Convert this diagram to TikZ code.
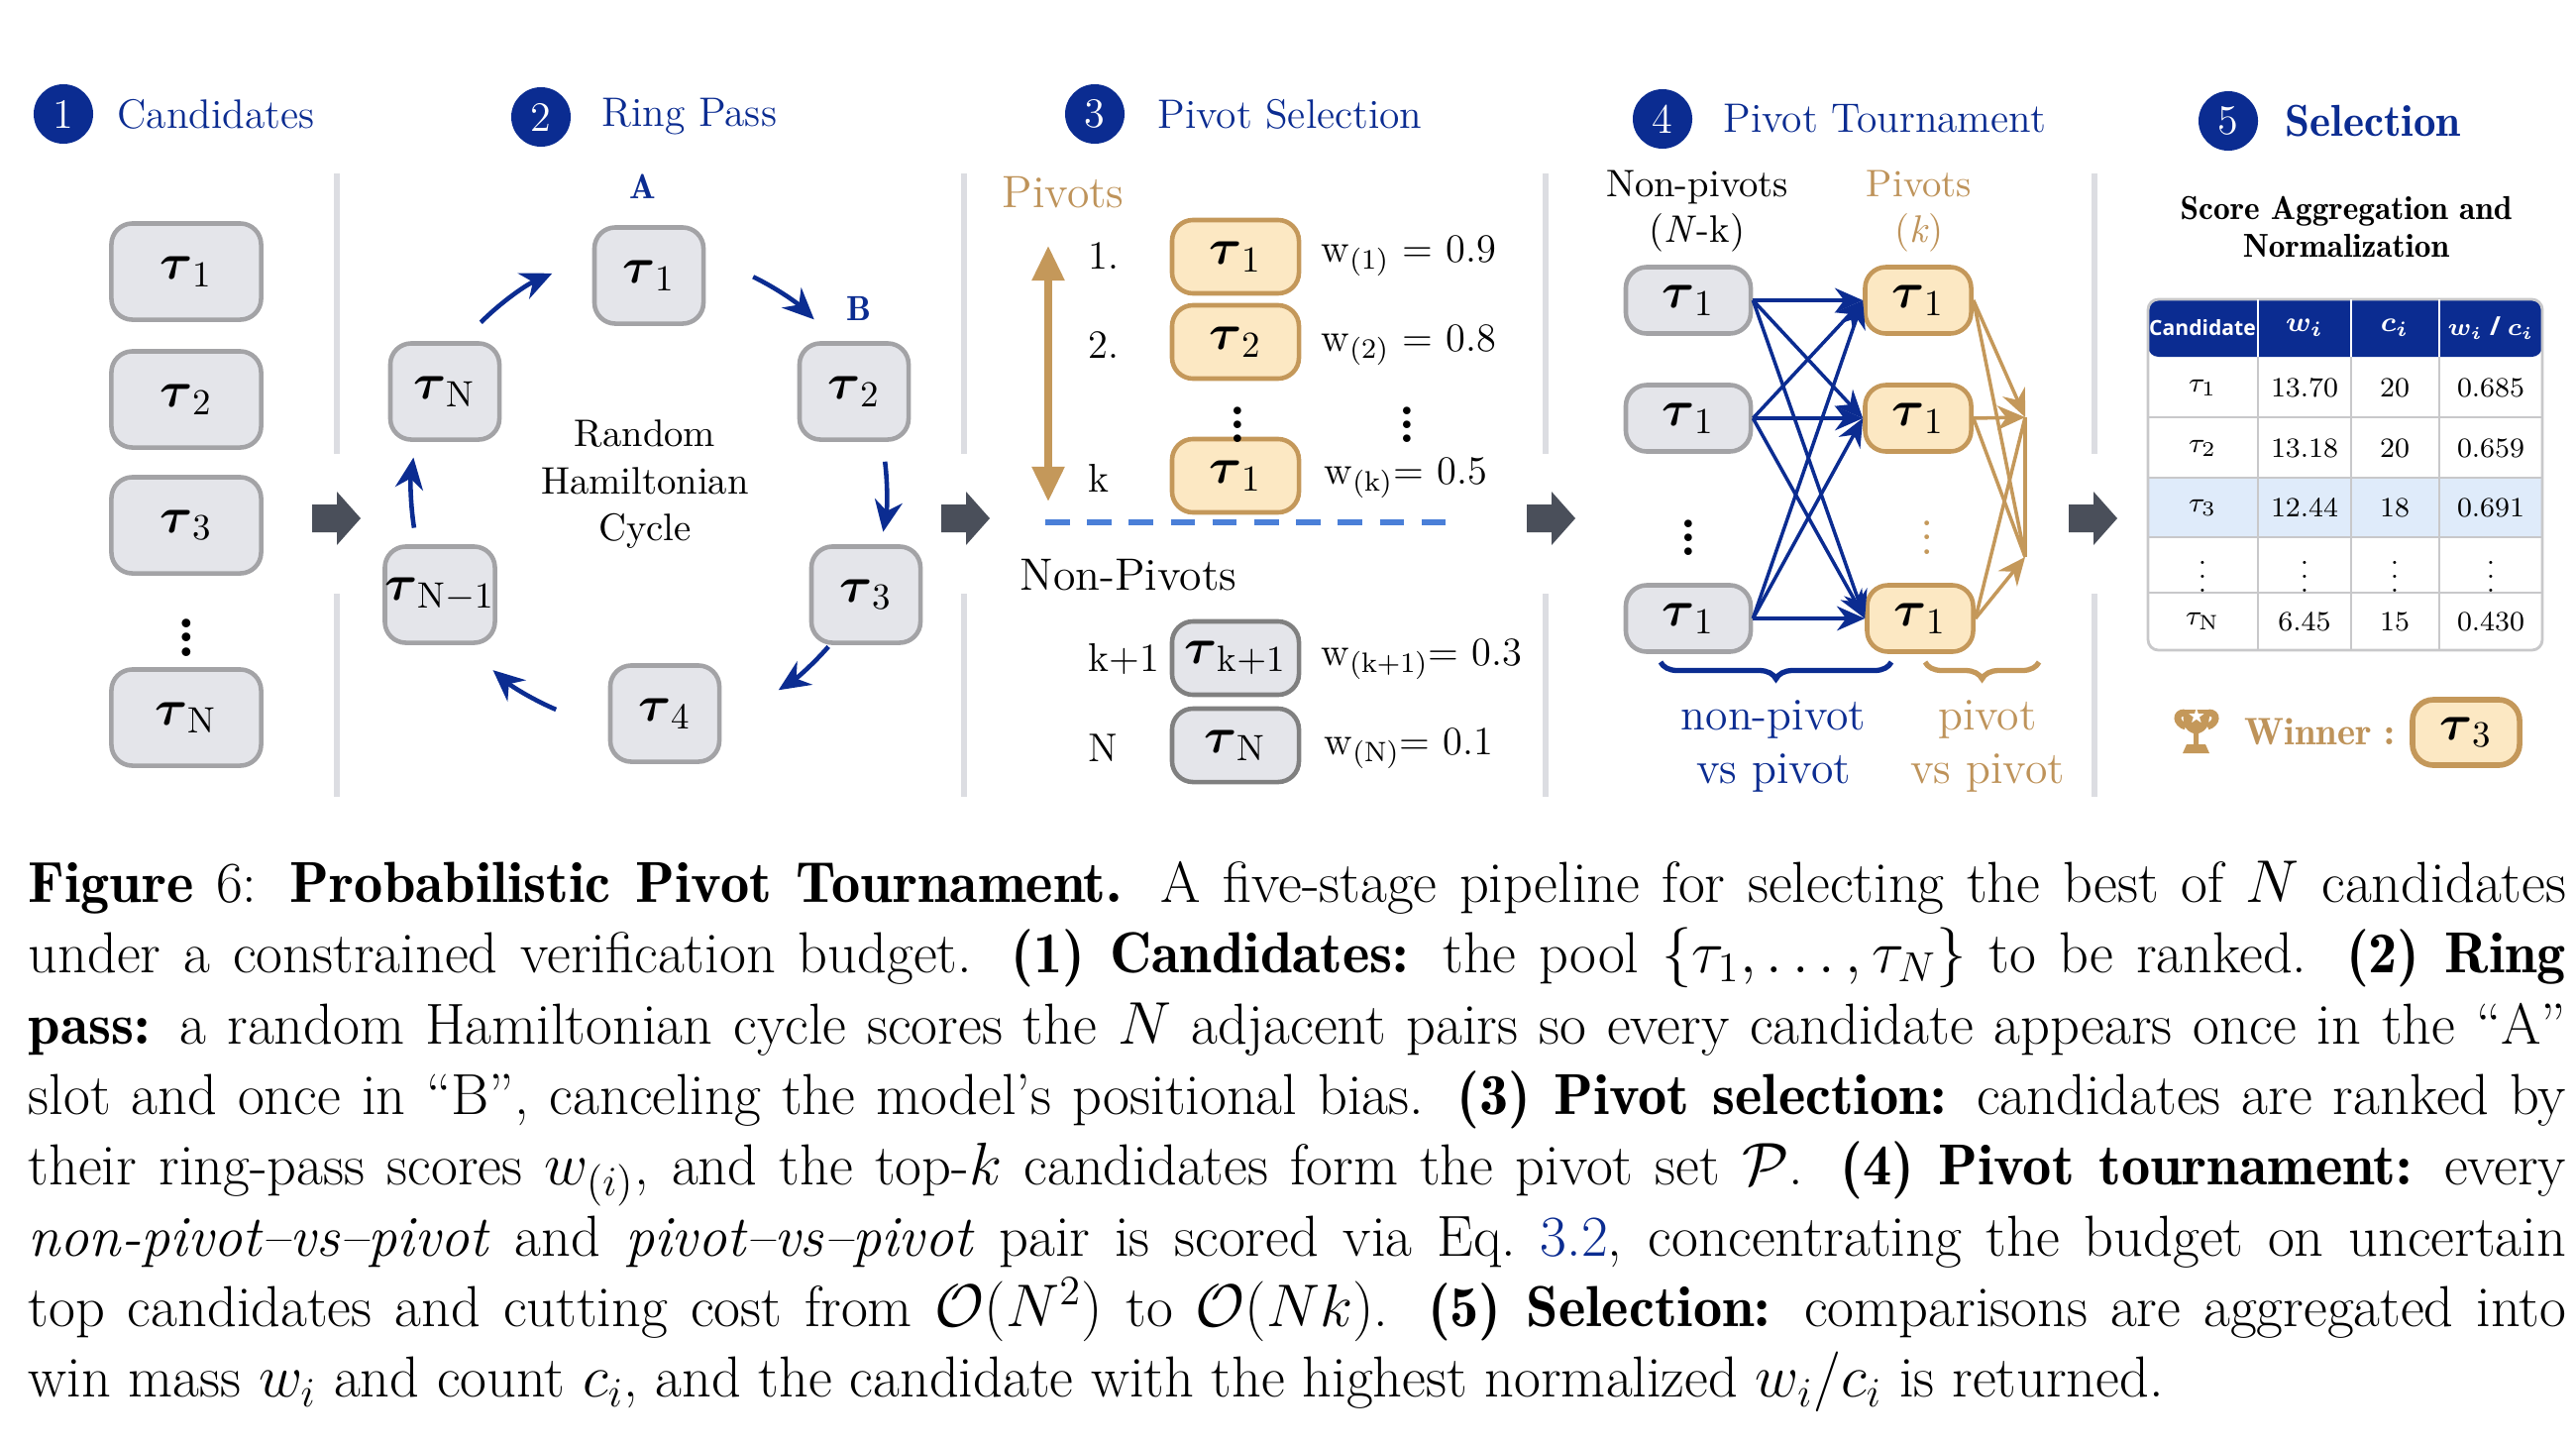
\documentclass[tikz,border=0pt]{standalone}
\usepackage{amsmath}
\usepackage{amsfonts}
\usepackage{amssymb}
\usepackage{fontspec}
\setmainfont{Latin Modern Roman}[BoldFont={Latin Modern Roman Demi}]
\usepackage{tikz}
\usetikzlibrary{positioning,arrows.meta,decorations.pathreplacing,calc}
\newfontfamily\tabsans{Open Sans}
\definecolor{navy}{HTML}{0B2C91}
\definecolor{boxfill}{HTML}{E4E5EA}
\definecolor{boxline}{HTML}{A3A3A6}
\definecolor{tanfill}{HTML}{FCE8C3}
\definecolor{tanline}{HTML}{C4985A}
\definecolor{tantext}{HTML}{BE935A}
\definecolor{sepgray}{HTML}{DCDDE2}
\definecolor{arrgray}{HTML}{4A4F5A}
\definecolor{dashblue}{HTML}{4A7FD8}
\definecolor{rowblue}{HTML}{DFEBFA}
\newcommand{\tu}[1]{$\boldsymbol{\tau}_{\mathrm{#1}}$}
\newcommand{\stagearrow}[1]{\fill[arrgray] ($(#1)+(-25,-14)$) -- ++(25,0) -- ++(0,-13) -- ($(#1)+(24,0)$) -- ($(#1)+(0,27)$) -- ++(0,-13) -- ++(-25,0) -- cycle;}

\begin{document}
\begin{tikzpicture}[x=0.01cm,y=-0.01cm,
    stagenum/.style={shape=circle,fill=navy,text=white,minimum size=0.6cm,inner sep=0,font=\fontsize{12}{14}\selectfont},
    steptext/.style={text=navy,font=\fontsize{11.8}{14}\selectfont,inner sep=0},
    cand/.style={draw=boxline,fill=boxfill,rounded corners=6pt,line width=1.3pt,inner sep=0,font=\fontsize{15}{18}\selectfont},
    piv/.style={cand,draw=tanline,fill=tanfill},
    lbl/.style={font=\fontsize{11.5}{14}\selectfont,inner sep=0},
    ring/.style={navy,line width=1.3pt,-{Stealth[length=9pt,width=8pt]}},
    nedge/.style={navy,line width=1pt,-{Stealth[length=8pt,width=7pt]}},
    pedge/.style={tanline,line width=1pt,-{Stealth[length=8pt,width=7pt]}},
    sep/.style={sepgray,line width=1.5pt}]
\useasboundingbox (0,0) rectangle (2600,1460);

% stage headings
\node[stagenum] (s1) at (64,115) {1};
\node[steptext,right=0.23cm of s1] {Candidates};
\node[stagenum] (s2) at (546,118) {2};
\node[steptext,right=0.3cm of s2] {Ring Pass};
\node[stagenum] (s3) at (1105,115) {3};
\node[steptext,right=0.32cm of s3] {Pivot Selection};
\node[stagenum] (s4) at (1678,120) {4};
\node[steptext,right=0.3cm of s4] {Pivot Tournament};
\node[stagenum] (s5) at (2249,122) {5};
\node[steptext,right=0.26cm of s5,font=\fontsize{12.8}{15}\selectfont\bfseries] {Selection};

% separators and arrows
\foreach \x in {340,973,1560,2114} {
    \draw[sep] (\x,175) -- (\x,458);
    \draw[sep] (\x,599) -- (\x,804);
}
\coordinate (g1) at (340,523);
\coordinate (g2) at (975,523);
\coordinate (g3) at (1566,523);
\coordinate (g4) at (2113,523);
\foreach \g in {g1,g2,g3,g4} {\stagearrow{\g}}

% 1 candidates
\node[cand,minimum width=1.51cm,minimum height=0.97cm] (c1) at (188,274) {\tu{1}};
\node[cand,minimum width=1.51cm,minimum height=0.97cm] (c2) at (188,403) {\tu{2}};
\node[cand,minimum width=1.51cm,minimum height=0.97cm] (c3) at (188,530) {\tu{3}};
\node[cand,minimum width=1.51cm,minimum height=0.97cm] (cn) at (188,724) {\tu{N}};
\node[font=\bfseries\fontsize{16}{16}\selectfont] (cdots) at (188,633) {$\vdots$};

% 2 ring pass
\coordinate (rc) at (655,495);
\node[cand,minimum width=1.1cm,minimum height=0.97cm] (r1) at (655,278) {\tu{1}};
\node[cand,minimum width=1.1cm,minimum height=0.97cm] (r2) at (862,395) {\tu{2}};
\node[cand,minimum width=1.1cm,minimum height=0.97cm] (r3) at (874,600) {\tu{3}};
\node[cand,minimum width=1.1cm,minimum height=0.97cm] (r4) at (671,720) {\tu{4}};
\node[cand,minimum width=1.1cm,minimum height=0.97cm] (rn1) at (444,600) {\tu{N-1}};
\node[cand,minimum width=1.1cm,minimum height=0.97cm] (rn) at (449,395) {\tu{N}};
\node[lbl,text=navy,font=\bfseries\fontsize{10}{12}\selectfont] (la) at (649,188) {A};
\node[lbl,text=navy,font=\bfseries\fontsize{10}{12}\selectfont] (lb) at (867,311) {B};
\node[lbl,align=center,font=\fontsize{11}{13.5}\selectfont] (rtext) at (651,489) {Random\\Hamiltonian\\Cycle};
\foreach \a/\b in {-135/-114,-64/-46,-7/10,41/57,113/131,171/188}
    \draw[ring] ($(rc)+(\a:240)$) arc[start angle=\a,end angle=\b,radius=240];

% 3 pivot selection
\node[lbl,text=tantext,anchor=west,font=\fontsize{13}{15}\selectfont] (pvt) at (1011,194) {Pivots};
\coordinate (ptop) at (1058,248);
\coordinate (pbot) at (1058,506);
\draw[tanline,line width=2pt,{Triangle[length=10pt,width=9pt]}-{Triangle[length=10pt,width=9pt]}] (ptop) -- (pbot);
\node[piv,minimum width=1.28cm,minimum height=0.74cm] (p1) at (1247,259) {\tu{1}};
\node[piv,minimum width=1.28cm,minimum height=0.74cm] (p2) at (1247,345) {\tu{2}};
\node[piv,minimum width=1.28cm,minimum height=0.74cm] (pk) at (1247,480) {\tu{1}};
\node[cand,minimum width=1.28cm,minimum height=0.74cm,draw=gray] (pk1) at (1247,664) {\tu{k+1}};
\node[cand,minimum width=1.28cm,minimum height=0.74cm,draw=gray] (pn) at (1247,752) {\tu{N}};
\node[lbl,anchor=west] (o1) at (1098,258) {1.};
\node[lbl,anchor=west] (o2) at (1098,348) {2.};
\node[lbl,anchor=west] (ok) at (1098,482) {k};
\node[lbl,anchor=west] (ok1) at (1098,665) {k+1};
\node[lbl,anchor=west] (on) at (1098,755) {N};
\node[lbl,anchor=west] (w1) at (1333,258) {w\textsubscript{(1)} = 0.9};
\node[lbl,anchor=west] (w2) at (1333,348) {w\textsubscript{(2)} = 0.8};
\node[lbl,anchor=west] (wk) at (1336,482) {w\textsubscript{(k)}= 0.5};
\node[lbl,anchor=west] (wk1) at (1333,665) {w\textsubscript{(k+1)}= 0.3};
\node[lbl,anchor=west] (wn) at (1336,755) {w\textsubscript{(N)}= 0.1};
\node[lbl,font=\bfseries\fontsize{14}{14}\selectfont] (pd1) at (1249,418) {$\vdots$};
\node[lbl,font=\bfseries\fontsize{14}{14}\selectfont] (pd2) at (1420,418) {$\vdots$};
\coordinate (dl) at (1055,527);
\coordinate (dr) at (1469,527);
\draw[dashblue,line width=1.5pt,dash pattern=on 7pt off 5pt] (dl) -- (dr);
\node[lbl,anchor=west,font=\fontsize{13}{15}\selectfont] (npv) at (1029,580) {Non-Pivots};

% 4 pivot tournament
\node[lbl,align=center,font=\fontsize{11}{13}\selectfont] (nph) at (1713,213) {Non-pivots\\(\textit{N}-k)};
\node[lbl,align=center,text=tantext,font=\fontsize{11}{13}\selectfont] (ph) at (1937,213) {Pivots\\(\textit{k})};
\node[cand,minimum width=1.26cm,minimum height=0.67cm] (n1) at (1704,303) {\tu{1}};
\node[cand,minimum width=1.26cm,minimum height=0.67cm] (n2) at (1704,422) {\tu{1}};
\node[cand,minimum width=1.26cm,minimum height=0.67cm] (n3) at (1704,624) {\tu{1}};
\node[piv,minimum width=1.07cm,minimum height=0.67cm] (q1) at (1936,303) {\tu{1}};
\node[piv,minimum width=1.07cm,minimum height=0.67cm] (q2) at (1936,422) {\tu{1}};
\node[piv,minimum width=1.07cm,minimum height=0.67cm] (q3) at (1938,624) {\tu{1}};
\node[lbl,font=\bfseries\fontsize{14}{14}\selectfont] (nd) at (1704,532) {$\vdots$};
\node[lbl,text=tanline,font=\fontsize{14}{14}\selectfont] (qd) at (1945,532) {$\vdots$};
\foreach \i in {1,2,3}
    \foreach \j in {1,2,3}
        \draw[nedge] (n\i.east) -- (q\j.west);
\coordinate (m1) at (2044,421);
\coordinate (m2) at (2044,562);
\draw[tanline,line width=1pt] (m1) -- (m2);
\draw[pedge] (q1.east) -- (m1);
\draw[pedge] (q2.east) -- (m1);
\draw[pedge] (q3.east) -- (m2);
\draw[tanline,line width=1pt] (q1.east) -- (m2);
\draw[tanline,line width=1pt] (q2.east) -- (m2);
\draw[tanline,line width=1pt] (q3.east) -- (m1);
\coordinate (b1l) at (1676,668);
\coordinate (b1r) at (1909,668);
\coordinate (b2l) at (1943,668);
\coordinate (b2r) at (2058,668);
\draw[navy,line width=1.5pt,decorate,decoration={brace,mirror,amplitude=0.17cm}] (b1l) -- (b1r);
\draw[tanline,line width=1.5pt,decorate,decoration={brace,mirror,amplitude=0.17cm}] (b2l) -- (b2r);
\node[lbl,align=center,text=navy,font=\fontsize{13}{15.5}\selectfont] (nvp) at (1790,753) {non-pivot\\vs pivot};
\node[lbl,align=center,text=tantext,font=\fontsize{13}{15.5}\selectfont] (pvp) at (2006,753) {pivot\\vs pivot};

% 5 selection
\node[lbl,align=center,font=\bfseries\fontsize{9.5}{11}\selectfont] (sat) at (2368,229) {Score Aggregation and\\Normalization};
\fill[navy,rounded corners=3pt] (2168,360) -- (2168,302) -- (2566,302) -- (2566,360) -- cycle;
\fill[rowblue] (2168,482) rectangle (2566,542);
\draw[boxline!60,line width=0.8pt,rounded corners=3pt] (2168,302) rectangle (2566,656);
\foreach \y in {421,482,542,598}
    \draw[boxline!60,line width=0.8pt] (2168,\y) -- (2566,\y);
\foreach \x in {2279,2373,2462} {
    \draw[white,line width=0.8pt] (\x,302) -- (\x,360);
    \draw[boxline!60,line width=0.8pt] (\x,360) -- (\x,656);
}
\node[text=white,font=\tabsans\bfseries\fontsize{6}{7}\selectfont] (h1) at (2223,331) {Candidate};
\node[text=white,font=\tabsans\bfseries\fontsize{8}{8}\selectfont] (h2) at (2326,331) {$\boldsymbol{w_i}$};
\node[text=white,font=\tabsans\bfseries\fontsize{8}{8}\selectfont] (h3) at (2417,331) {$\boldsymbol{c_i}$};
\node[text=white,font=\tabsans\bfseries\fontsize{7.5}{8}\selectfont] (h4) at (2514,331) {$\boldsymbol{w_i}$ / $\boldsymbol{c_i}$};
\foreach \t/\w/\c/\r/\y in {\tau_1/13.70/20/0.685/391,\tau_2/13.18/20/0.659/452,\tau_3/12.44/18/0.691/512,\vdots/\vdots/\vdots/\vdots/571,\tau_{\mathrm{N}}/6.45/15/0.430/627} {
    \node[font=\fontsize{8}{9}\selectfont] at (2223,\y) {$\t$};
    \node[font=\fontsize{8}{9}\selectfont] at (2326,\y) {\w};
    \node[font=\fontsize{8}{9}\selectfont] at (2417,\y) {\c};
    \node[font=\fontsize{8}{9}\selectfont] at (2514,\y) {\r};
}
% trophy
\fill[tanline] (2203,716) -- (2231,716) -- (2229,730) .. controls (2227,737) and (2222,739) .. (2219,740) -- (2219,751) -- (2226,751) -- (2230,760) -- (2203,760) -- (2207,751) -- (2214,751) -- (2214,740) .. controls (2211,739) and (2206,737) .. (2204,730) -- cycle;
\draw[tanline,line width=2pt] (2205,719) .. controls (2195,719) and (2196,730) .. (2206,733);
\draw[tanline,line width=2pt] (2229,719) .. controls (2239,719) and (2238,730) .. (2228,733);
\node[text=white,inner sep=0,font=\fontsize{5}{5}\selectfont] (star) at (2217,723) {$\bigstar$};
\node[lbl,anchor=west,text=tantext,font=\bfseries\fontsize{11}{14}\selectfont] (win) at (2265,738) {Winner :};
\node[piv,minimum width=1.08cm,minimum height=0.66cm,line width=1.6pt] (wbox) at (2489,739) {\tu{3}};

% caption
\node[anchor=north west,text width=25.6cm,align=justify,inner sep=0,font=\fontsize{16.6}{20.3}\selectfont] (cap) at (28,868) {%
\textbf{Figure} 6: \textbf{Probabilistic Pivot Tournament.} A five-stage pipeline for selecting the best of $N$ candidates\linebreak
under a constrained verification budget. \textbf{(1) Candidates:} the pool $\{\tau_1,\dots,\tau_N\}$ to be ranked. \textbf{(2) Ring}\linebreak
\textbf{pass:} a random Hamiltonian cycle scores the $N$ adjacent pairs so every candidate appears once in the ``A''\linebreak
slot and once in ``B'', canceling the model's positional bias. \textbf{(3) Pivot selection:} candidates are ranked by\linebreak
their ring-pass scores $w_{(i)}$, and the top-$k$ candidates form the pivot set $\mathcal{P}$. \textbf{(4) Pivot tournament:} every\linebreak
\emph{non-pivot--vs--pivot} and \emph{pivot--vs--pivot} pair is scored via Eq.~\textcolor{navy}{3.2}, concentrating the budget on uncertain\linebreak
top candidates and cutting cost from $\mathcal{O}(N^2)$ to $\mathcal{O}(Nk)$. \textbf{(5) Selection:} comparisons are aggregated into\linebreak
win mass $w_i$ and count $c_i$, and the candidate with the highest normalized $w_i/c_i$ is returned.};
\end{tikzpicture}
\end{document}
